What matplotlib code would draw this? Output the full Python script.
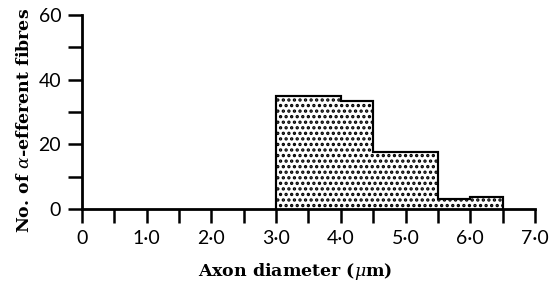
import matplotlib
matplotlib.use("Agg")
import matplotlib.pyplot as plt
import numpy as np

# histogram data
edges = [3.0, 3.5, 4.0, 4.5, 5.0, 5.5, 6.0, 6.5]
counts = [35, 35, 33.5, 17.5, 17.5, 3, 3.8]

xticks = np.arange(0, 7.01, 0.5)
xlabels = ['0', '1·0', '2·0', '3·0', '4·0', '5·0', '6·0', '7·0']
yticks = [0, 20, 40, 60]

plt.rcParams['hatch.linewidth'] = 1.6
plt.rcParams['mathtext.fontset'] = 'dejavuserif'

fig = plt.figure(figsize=(5.53, 2.89), dpi=100)
ax = fig.add_axes([0.1483, 0.2768, 0.819, 0.6712])

ax.stairs(counts, edges, fill=True, facecolor='white', edgecolor='black',
          hatch='...', linewidth=1.5)
ax.stairs(counts, edges, fill=False, color='black', linewidth=1.5)

ax.set_xlim(0, 7)
ax.set_ylim(0, 60)
for s in ['top', 'right']:
    ax.spines[s].set_visible(False)
for s in ['left', 'bottom']:
    ax.spines[s].set_linewidth(2)

ax.set_xticks(xticks, minor=True)
ax.set_xticks(np.arange(0, 8))
ax.set_xticklabels(xlabels, fontfamily='Lato', fontsize=14)
ax.set_yticks([10, 30, 50], minor=True)
ax.set_yticks(yticks)
ax.set_yticklabels([str(v) for v in yticks], fontfamily='Lato', fontsize=14)
ax.tick_params(which='both', direction='out', length=10, width=1.8, pad=5)

ax.set_xlabel('Axon diameter ($\\mu$m)', fontfamily='DejaVu Serif',
              fontweight='bold', fontsize=12.5)
ax.set_ylabel('No. of $\\alpha$-efferent fibres', fontfamily='DejaVu Serif',
              fontweight='bold', fontsize=12.5)
ax.xaxis.set_label_coords(0.471, -0.27)
ax.yaxis.set_label_coords(-0.108, 0.454)

fig.savefig('out.png', dpi=100)
